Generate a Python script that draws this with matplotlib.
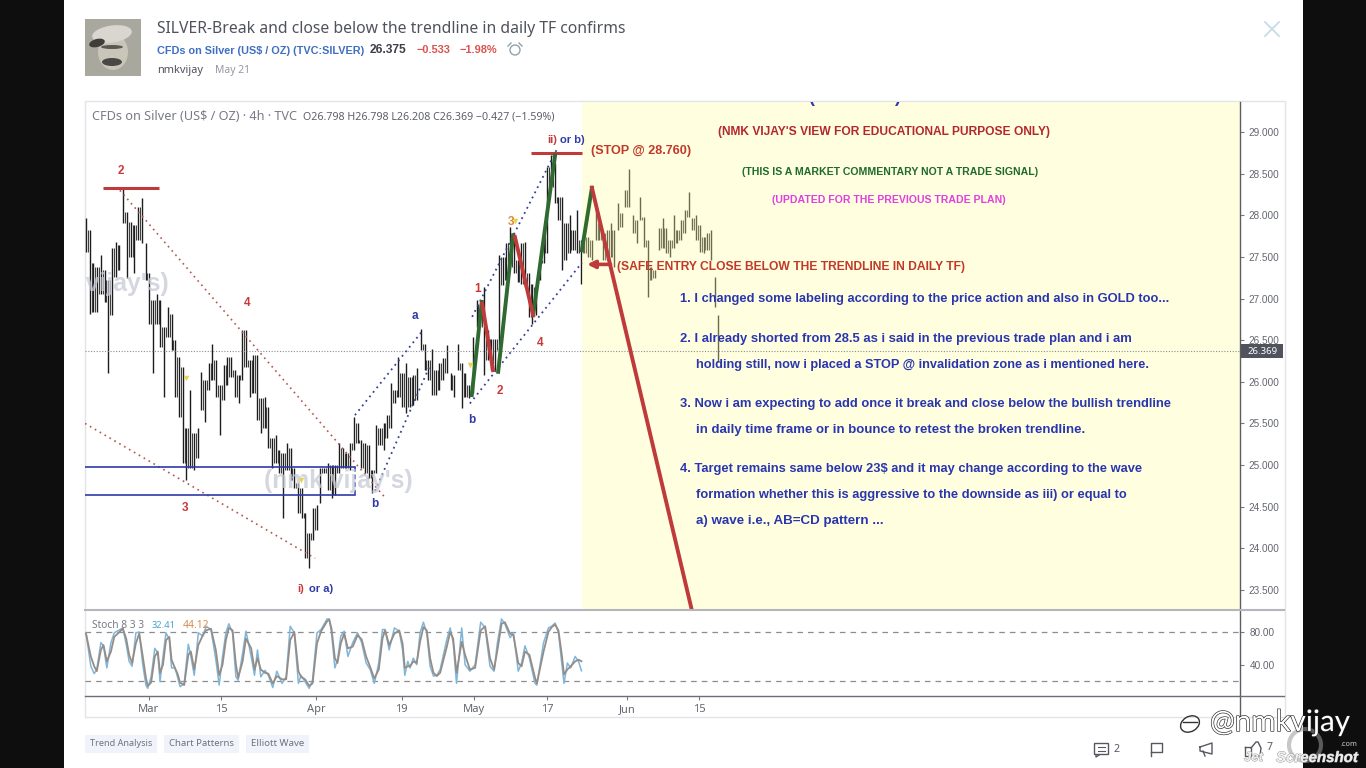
#!/usr/bin/env python3
"""SILVER 4h idea page with Elliott wave drawings, redrawn in matplotlib."""

import numpy as np
import matplotlib
matplotlib.use('Agg')
import matplotlib.pyplot as plt
import matplotlib.patheffects as pe
from matplotlib.patches import Rectangle, Ellipse, Circle, FancyBboxPatch

FONT = 'Noto Sans'
BOLD_FONT = 'Liberation Sans'

# 4h bars, left to right
bar_high = [27.97, 27.82, 27.43, 27.38, 27.52, 27.34, 27.22, 27.61, 27.68, 27.64, 28.32, 28.04, 27.92, 27.88, 28.10, 28.21,
            27.67, 27.31, 26.98, 27.06, 26.98, 26.66, 26.90, 26.82, 26.50, 26.30, 26.18, 25.45, 25.90, 25.38, 25.45, 26.12,
            26.02, 26.22, 26.46, 26.26, 25.96, 26.20, 26.30, 26.30, 26.14, 26.08, 26.62, 26.62, 26.26, 26.32,
            26.32, 25.80, 25.82, 25.70, 25.33, 25.36, 25.18, 25.15, 25.26, 25.20, 24.97, 24.78, 24.73, 24.42, 24.18, 24.49,
            24.52, 24.96, 24.96, 25.03, 25.00, 25.00, 25.27, 25.20, 25.15, 25.27, 25.58, 25.50, 25.30, 25.27, 25.24, 24.94,
            25.48, 25.45, 25.50, 25.60, 25.98, 25.90, 26.30, 26.10, 26.22, 26.06, 26.08, 26.16,
            26.64, 26.46, 26.26, 26.40, 26.14, 26.22, 26.28, 26.44, 26.10, 26.08, 26.46, 26.22, 26.10, 25.96, 26.54, 26.98,
            26.94, 27.14, 26.62, 26.52, 26.52, 27.52, 27.50, 27.67, 27.86, 27.74, 27.46, 27.67, 27.68, 27.31, 27.18, 27.14,
            27.46, 27.76, 28.58, 28.72, 28.63, 28.22, 28.22, 27.91, 28.00, 27.82, 28.06, 27.70,
            27.82, 27.74, 27.70, 28.06, 27.91, 27.79, 27.82, 27.91, 27.82, 28.15, 28.03, 28.30, 28.56, 28.00, 27.94, 28.22,
            27.98, 27.70, 27.38, 27.34, 27.85, 27.97, 27.85, 27.70, 28.00, 27.82, 27.94, 28.06, 28.28, 27.97, 28.00, 27.88,
            27.74, 27.79, 27.82, 27.26, 26.80]
bar_low = [27.56, 26.82, 26.84, 26.84, 27.06, 26.96, 26.10, 26.80, 27.26, 27.34, 27.91, 27.25, 27.50, 27.31, 27.70, 27.67,
           27.22, 26.70, 26.10, 26.70, 26.42, 25.82, 26.54, 26.38, 25.82, 25.58, 25.02, 24.82, 24.97, 24.94, 25.09, 25.66,
           25.52, 25.90, 26.02, 25.82, 25.36, 25.78, 25.96, 26.06, 25.82, 25.74, 26.02, 26.18, 25.82, 25.86,
           25.54, 25.39, 25.45, 25.21, 24.96, 25.02, 24.90, 24.37, 24.94, 24.82, 24.73, 24.42, 24.37, 23.89, 23.76, 24.10,
           24.22, 24.54, 24.91, 24.70, 24.60, 24.64, 24.90, 24.97, 24.96, 24.94, 25.18, 25.26, 24.97, 24.90, 24.85, 24.67,
           24.90, 25.24, 25.18, 25.33, 25.45, 25.74, 25.82, 25.70, 25.62, 25.70, 25.72, 25.78,
           26.38, 26.14, 26.02, 25.84, 25.84, 25.90, 26.02, 26.10, 25.90, 25.82, 26.14, 25.68, 25.82, 25.80, 25.86, 26.66,
           26.66, 26.08, 26.26, 26.14, 26.14, 26.38, 27.16, 27.22, 27.38, 27.31, 27.20, 27.18, 27.14, 26.78, 26.70, 26.80,
           27.22, 27.43, 27.55, 28.34, 28.15, 27.94, 27.34, 27.46, 27.55, 27.58, 27.55, 27.18,
           27.55, 27.50, 27.46, 27.70, 27.70, 27.46, 27.46, 27.50, 27.38, 27.82, 27.86, 28.10, 28.10, 27.79, 27.67, 27.94,
           27.62, 27.02, 27.22, 27.25, 27.58, 27.61, 27.55, 27.50, 27.61, 27.67, 27.70, 27.79, 27.98, 27.82, 27.70, 27.56,
           27.55, 27.58, 27.46, 26.90, 26.24]

# stochastic turning points: bar position, %K, %D
stoch_bar = [0, 1.3, 2.2, 2.9, 4.0, 4.7, 5.6, 6.7, 7.6, 9.9, 10.8, 11.6, 12.4, 13.4, 14.3, 15.2, 16.1, 16.6, 17.5, 18.5,
             19.3, 19.9, 20.7, 21.5, 22.4, 23.0, 23.9, 24.6, 25.3, 26.4, 27.5, 28.2, 29.1, 30.2, 31.4, 32.3, 33.6, 34.9,
             35.8, 36.7, 37.6, 38.4, 39.4, 40.3, 40.9, 42.1, 43.0, 44.4, 45.3, 46.1, 47.0, 48.1, 49.0, 50.2, 51.3, 52.7,
             53.8, 54.9, 56.0, 57.1, 57.8, 58.9, 60.0, 60.9, 62.1, 63.2, 64.8, 65.4, 66.0, 66.9, 67.6, 68.5, 69.4, 70.4,
             71.7, 73.0, 74.1, 75.3, 76.4, 77.5, 78.7, 79.7, 80.4, 81.5, 82.9, 84.2, 85.1, 85.7, 86.5, 87.1, 88.0, 88.9,
             89.8, 90.7, 91.6, 92.5, 93.4, 94.3, 95.2, 97.0, 97.9, 98.7, 99.6, 101.0, 101.9, 103.2, 104.6, 106.1, 107.3,
             108.6, 109.7, 110.6, 111.7, 112.6, 114.0, 114.9, 116.2, 117.1, 118.0, 119.2, 120.7, 121.2, 123.0, 124.3,
             125.2, 126.1, 127.0, 127.9, 128.5, 129.4, 130.3, 131.5, 132.4, 133.2]
stoch_k = [79, 38, 29, 34, 67, 63, 36, 67, 79, 85, 65, 44, 38, 79, 80, 42, 15, 11, 25, 60,
           54, 19, 50, 79, 71, 36, 36, 25, 13, 17, 65, 50, 27, 79, 75, 87, 83, 46,
           15, 50, 79, 90, 79, 25, 21, 54, 81, 50, 27, 58, 25, 33, 27, 12, 32, 17,
           25, 87, 79, 17, 27, 19, 11, 21, 79, 83, 96, 96, 79, 36, 46, 75, 81, 50,
           67, 79, 67, 42, 34, 17, 42, 83, 83, 58, 85, 81, 58, 27, 44, 36, 48, 40,
           79, 92, 79, 38, 26, 27, 34, 71, 85, 67, 17, 85, 40, 32, 40, 92, 85,
           38, 32, 67, 96, 90, 73, 79, 32, 42, 63, 48, 17, 15, 67, 85,
           87, 91, 79, 42, 17, 42, 36, 50, 44, 32.41]
stoch_d = [78, 50, 38, 32, 58, 64, 44, 56, 74, 84, 72, 52, 42, 66, 78, 52, 24, 14, 18, 50,
           56, 30, 40, 70, 74, 46, 36, 29, 18, 15, 52, 56, 34, 64, 76, 82, 84, 58,
           27, 40, 70, 85, 82, 40, 24, 44, 72, 60, 34, 48, 34, 30, 29, 17, 26, 22,
           22, 70, 80, 32, 25, 22, 14, 17, 66, 81, 93, 95, 84, 48, 42, 66, 78, 60,
           62, 76, 71, 50, 37, 23, 34, 72, 82, 64, 78, 82, 66, 36, 38, 38, 44, 42,
           68, 86, 82, 48, 30, 26, 30, 62, 80, 72, 30, 68, 52, 34, 36, 82, 87,
           48, 34, 58, 90, 92, 78, 76, 42, 38, 56, 52, 24, 17, 56, 80,
           86, 89, 82, 52, 28, 34, 38, 44, 46, 44.12]

price_ticks = [29.0, 28.5, 28.0, 27.5, 27.0, 26.5, 26.0, 25.5, 25.0, 24.5, 24.0, 23.5]
stoch_ticks = [80, 40]
date_pos = [16.9, 36.3, 61.8, 84.9, 104.3, 123.9, 145.4, 164.8]
date_labels = ['Mar', '15', 'Apr', '19', 'May', '17', 'Jun', '15']

last_price = 26.369

# wave drawings as (bar, price) pairs
green_legs = [[(103.7, 25.84), (106.4, 26.96)], [(110.8, 26.12), (114.8, 27.76)],
              [(120.2, 26.80), (126.1, 28.72)], [(133.3, 27.58), (136.0, 28.33)]]
red_legs = [[(106.5, 26.94), (109.4, 26.14)], [(115.3, 27.74), (120.2, 26.80)],
            [(136.0, 28.33), (162.9, 23.25)]]
red_dotted = [[(9.1, 28.30), (80.4, 24.61)], [(-0.27, 25.50), (61.6, 23.88)]]
blue_dotted = [[(72.3, 25.60), (90.6, 26.62)], [(77.7, 24.69), (92.5, 26.20)],
               [(103.8, 26.78), (126.9, 28.82)], [(103.2, 25.74), (133.3, 27.43)]]
red_levels = [(4.6, 19.6, 28.33), (119.6, 133.3, 28.75)]
zone_levels = [24.98, 24.64]
zone_end = 72.3
marker_points = [(26.9, 26.05), (57.9, 24.82), (103.1, 26.20), (115.2, 27.93)]

W, H = 1366, 768
AX_L, AX_R = 85, 1240
BAR_STEP = 3.72
BAR_ZERO = 86


def rect_for(x0, y0, x1, y1):
    return [x0 / W, 1 - y1 / H, (x1 - x0) / W, (y1 - y0) / H]


fig = plt.figure(figsize=(W / 100, H / 100), dpi=100, facecolor='#0e0e0e')
rend = fig.canvas.get_renderer()

# page
page = fig.add_axes([0, 0, 1, 1], zorder=0)
page.set_xlim(0, W)
page.set_ylim(H, 0)
page.axis('off')
page.add_patch(Rectangle((64, 0), 1239, H, color='white', lw=0))
page.add_patch(Rectangle((85, 101), 1199.5, 616, fc='none', ec='#e3e4e8', lw=1))

xlim = ((AX_L - BAR_ZERO) / BAR_STEP, (AX_R - BAR_ZERO) / BAR_STEP)

# price panel
ax = fig.add_axes(rect_for(AX_L, 102, AX_R, 610), zorder=1)
ax.set_xlim(*xlim)
ax.set_ylim(23.26, 29.36)
ax.patch.set_alpha(0)
for s in ['top', 'left', 'bottom', 'right']:
    ax.spines[s].set_visible(False)

bars = np.arange(len(bar_high))
hi = np.array(bar_high)
lo = np.array(bar_low)
ax.vlines(bars, lo, hi, color='#1c1c1c', lw=1.0, zorder=2)
# the original packs about three bars in this space, fill where neighbours overlap
mid_hi = np.minimum(hi[:-1], hi[1:])
mid_lo = np.maximum(lo[:-1], lo[1:])
keep = mid_hi > mid_lo
ax.vlines(bars[:-1][keep] + 0.5, mid_lo[keep], mid_hi[keep], color='#3a3a3a', lw=0.7, zorder=2)
ax.add_patch(Rectangle((133.3, 23.26), xlim[1] - 133.3, 6.1, color='#ffffa6', alpha=0.35, lw=0, zorder=3))
ax.axhline(last_price, color='#8a8d94', lw=0.8, ls=(0, (1, 1.5)), zorder=4)

for leg in red_dotted:
    ax.plot(*zip(*leg), color='#b5554e', lw=1.2, ls=(0, (1, 2.4)), zorder=4)
for leg in blue_dotted:
    ax.plot(*zip(*leg), color='#34409a', lw=1.3, ls=(0, (1, 2.2)), zorder=4)
for level in zone_levels:
    ax.plot([xlim[0], zone_end], [level, level], color='#2f3aa8', lw=1.2, zorder=4)
ax.plot([zone_end, zone_end], zone_levels, color='#2f3aa8', lw=1.1, ls=(0, (3, 2)), zorder=4)
for x0, x1, level in red_levels:
    ax.plot([x0, x1], [level, level], color='#bf3a3a', lw=2.2, zorder=5, solid_capstyle='butt')
for leg in green_legs:
    ax.plot(*zip(*leg), color='#2f6b31', lw=2.8, zorder=5)
for leg in red_legs:
    ax.plot(*zip(*leg), color='#bf3a3a', lw=2.8, zorder=5)
ax.annotate('', xy=(134.7, 27.41), xytext=(141.0, 27.41), zorder=5,
            arrowprops=dict(arrowstyle='-|>', color='#bf3a3a', lw=2.6, mutation_scale=11, shrinkA=0, shrinkB=0))
ax.scatter(*zip(*marker_points), marker='v', s=16, color='#e8d44a', zorder=5, lw=0)

ax.set_xticks([])
ax.yaxis.tick_right()
ax.set_yticks(price_ticks)
ax.set_yticklabels([f'{p:.3f}' for p in price_ticks], family=BOLD_FONT)
ax.tick_params(axis='y', length=3, width=0.8, color='#787b86', labelsize=7.2, labelcolor='#63666f', pad=3)

# stochastic panel
sx = fig.add_axes(rect_for(AX_L, 611, AX_R, 696), zorder=1)
sx.set_xlim(*xlim)
sx.set_ylim(1.6, 105.7)
sx.patch.set_alpha(0)
for s in ['top', 'left', 'right']:
    sx.spines[s].set_visible(False)
sx.spines['bottom'].set_color('#6b6e76')
sx.spines['bottom'].set_linewidth(1)
for level in [80, 20]:
    sx.axhline(level, color='#8a8d94', lw=0.9, ls=(0, (4.5, 4)), zorder=1)
sx.plot(stoch_bar, stoch_k, color='#7fb6da', lw=1.1, zorder=2)
sx.plot(stoch_bar, stoch_d, color='#968c86', lw=1.3, zorder=3)
sx.set_xticks(date_pos)
sx.set_xticklabels(date_labels, family=FONT)
sx.yaxis.tick_right()
sx.set_yticks(stoch_ticks)
sx.set_yticklabels([f'{v:.2f}' for v in stoch_ticks], family=BOLD_FONT)
sx.tick_params(axis='x', length=3, width=0.8, color='#787b86', labelsize=8, labelcolor='#63666f', pad=3)
sx.tick_params(axis='y', length=3, width=0.8, color='#787b86', labelsize=7.2, labelcolor='#63666f', pad=4)

# everything on top is placed in page pixels
ov = fig.add_axes([0, 0, 1, 1], zorder=5)
ov.set_xlim(0, W)
ov.set_ylim(H, 0)
ov.axis('off')
ov.patch.set_alpha(0)


def put(x0, x1, y, s, color, weight='normal', family=None, **kw):
    # text scaled so it runs from x0 to x1, like the original
    if family is None:
        family = BOLD_FONT if weight == 'bold' else FONT
    t = ov.text(x0, y + 1, s, color=color, fontweight=weight, family=family, fontsize=10,
                ha='left', va='center', **kw)
    w = t.get_window_extent(rend).width
    t.set_fontsize(10 * (x1 - x0) / w)
    return t


def clip_to_chart(t):
    t.set_clip_on(True)
    t.set_clip_path(Rectangle((85, 102), 1155, 508, transform=ov.transData))


# price axis, separator, last price tag
ov.plot([AX_R, AX_R], [102, 717], color='#5a5d64', lw=1)
ov.plot([AX_L, 1284], [610, 610], color='#b4b6bb', lw=1.5)
ov.plot([AX_R, 1284], [696, 696], color='#6b6e76', lw=1)
ov.add_patch(Rectangle((1241, 344), 42, 14, color='#50535e', lw=0))
put(1248, 1278, 350, '26.369', 'white')

# header
ov.add_patch(Rectangle((85, 19), 56, 57, color='#a9a89f', lw=0))
ov.add_patch(Ellipse((113, 52), 30, 36, color='#c9c5b8', lw=0))
ov.add_patch(Ellipse((112, 34), 40, 17, angle=-8, color='#d8d6cf', lw=0))
ov.add_patch(Ellipse((97, 43), 16, 8, angle=-15, color='#3e3d3a', lw=0))
ov.add_patch(Ellipse((112, 62), 20, 8, color='#4a4844', lw=0))
ov.add_patch(Ellipse((112, 47), 22, 4, color='#5a5852', lw=0))
put(157, 624, 28, 'SILVER-Break and close below the trendline in daily TF confirms', '#50535e')
put(157, 364, 50.5, 'CFDs on Silver (US$ / OZ) (TVC:SILVER)', '#3f6fc2', weight='bold')
put(370, 407, 49, '26.375', '#3c3f48', weight='bold')
put(417, 451, 49, '\u22120.533', '#d9534f', weight='bold')
put(460, 498, 49, '\u22121.98%', '#d9534f', weight='bold')
ov.add_patch(Circle((515, 50), 5, fc='none', ec='#8fa3ad', lw=1))
ov.plot([508, 511], [46, 43], color='#8fa3ad', lw=1)
ov.plot([519, 522], [43, 46], color='#8fa3ad', lw=1)
put(157, 203, 69, 'nmkvijay', '#50535e')
put(215, 250, 69, 'May 21', '#9598a1')
ov.plot([1265, 1279], [22, 36], color='#c9dbe8', lw=1.3)
ov.plot([1265, 1279], [36, 22], color='#c9dbe8', lw=1.3)

# chart legend
put(92, 297, 115, 'CFDs on Silver (US$ / OZ) \u00b7 4h \u00b7 TVC', '#787b86')
put(303, 554, 116, 'O26.798 H26.798 L26.208 C26.369 \u22120.427 (\u22121.59%)', '#5d6069')
put(92, 144, 624, 'Stoch 8 3 3', '#787b86')
put(152, 176, 624, '32.41', '#4fa3d1')
put(183, 209, 624, '44.12', '#d98c52')

# watermarks
for x0, x1, y, s in [(264, 413, 480, "(nmk vijay's)"), (20, 169, 283, "(nmk vijay's)")]:
    clip_to_chart(put(x0, x1, y, s, '#c6cad6', weight='bold', alpha=0.75))
for x0, s in [(808, '('), (894, ')')]:
    clip_to_chart(put(x0, x0 + 6, 96, s, '#2f3aa8', weight='bold'))

# wave labels
WRED, WBLUE = '#c8393a', '#2f3aa8'
for x, y, s, c in [(121, 171, '2', WRED), (247, 303, '4', WRED), (185, 508, '3', WRED), (478, 289, '1', WRED),
                   (500, 391, '2', WRED), (540, 343, '4', WRED), (511, 222, '3', '#e08a2e'),
                   (415, 316, 'a', WBLUE), (472, 420, 'b', WBLUE), (375, 504, 'b', WBLUE)]:
    ov.text(x, y, s, color=c, fontsize=8.5, fontweight='bold', family=BOLD_FONT, ha='center', va='center')
for x, y, s, c in [(297, 589, 'i)', WRED), (309, 589, 'or a)', WBLUE), (547, 140, 'ii)', WRED), (560, 140, 'or b)', WBLUE)]:
    ov.text(x, y, s, color=c, fontsize=8, fontweight='bold', family=BOLD_FONT, ha='left', va='center')

# commentary
put(591, 691, 150, '(STOP @ 28.760)', '#c0392b', weight='bold')
put(718, 1050, 131, "(NMK VIJAY'S VIEW FOR EDUCATIONAL PURPOSE ONLY)", '#b3282d', weight='bold')
put(742, 1036, 171, '(THIS IS A MARKET COMMENTARY NOT A TRADE SIGNAL)', '#1f6b2c', weight='bold')
put(772, 1004, 199, '(UPDATED FOR THE PREVIOUS TRADE PLAN)', '#e23fe0', weight='bold')
put(617, 964, 266, '(SAFE ENTRY CLOSE BELOW THE TRENDLINE IN DAILY TF)', '#c0392b', weight='bold')
BLUE = '#2a35b0'
put(680, 1168, 298, '1. I changed some labeling according to the price action and also in GOLD too...', BLUE, weight='bold')
put(680, 1136, 338, '2. I already shorted from 28.5 as i said in the previous trade plan and i am', BLUE, weight='bold')
put(696, 1152, 364, 'holding still, now i placed a STOP @ invalidation zone as i mentioned here.', BLUE, weight='bold')
put(680, 1175, 403, '3. Now i am expecting to add once it break and close below the bullish trendline', BLUE, weight='bold')
put(696, 1086, 429, 'in daily time frame or in bounce to retest the broken trendline.', BLUE, weight='bold')
put(680, 1145, 468, '4. Target remains same below 23$ and it may change according to the wave', BLUE, weight='bold')
put(696, 1128, 494, 'formation whether this is aggressive to the downside as iii) or equal to', BLUE, weight='bold')
put(696, 884, 520, 'a) wave i.e., AB=CD pattern ...', BLUE, weight='bold')

# tags
for x0, x1, s in [(85, 157, 'Trend Analysis'), (164, 239, 'Chart Patterns'), (246, 309, 'Elliott Wave')]:
    ov.add_patch(Rectangle((x0, 735), x1 - x0, 18, color='#f0f3fa', lw=0))
    put(x0 + 5, x1 - 5, 743, s, '#6f727c')

# footer icons
ICON = '#55585f'
ov.add_patch(FancyBboxPatch((1095, 744), 13, 10, boxstyle='round,pad=0.5', fc='none', ec=ICON, lw=1))
ov.plot([1098, 1105], [747, 747], color=ICON, lw=0.8)
ov.plot([1098, 1105], [751, 751], color=ICON, lw=0.8)
ov.plot([1096, 1096, 1099], [755, 757, 755], color=ICON, lw=1)
put(1114, 1120, 748, '2', ICON)
ov.plot([1151, 1151, 1162, 1162, 1151], [756, 743, 743, 752, 752], color=ICON, lw=1)
ov.plot([1200, 1212, 1212, 1200, 1200], [747, 743, 754, 751, 747], color=ICON, lw=1)
ov.plot([1203, 1205], [751, 756], color=ICON, lw=1)
ov.plot([1245, 1251, 1251, 1245, 1245], [747, 747, 756, 756, 747], color=ICON, lw=1)
ov.plot([1251, 1256, 1258, 1261, 1260, 1252], [748, 742, 742, 748, 756, 756], color=ICON, lw=1)
put(1267, 1273, 746, '7', ICON)

# screen recorder overlays
OUTLINE = [pe.withStroke(linewidth=0.9, foreground='#222222')]
put(1210, 1350, 721, '@nmkvijay', 'white', family='Lato', path_effects=OUTLINE)
ov.add_patch(Ellipse((1190, 724), 20, 15, angle=-30, fc='none', ec='#333333', lw=1))
ov.plot([1183, 1197], [722, 722], color='#333333', lw=1)
ov.add_patch(Circle((1305, 745), 16, fc='none', ec='#9a9a9a', lw=3, alpha=0.55))
JET = [pe.withStroke(linewidth=0.6, foreground='#9a9a9a')]
put(1244, 1263, 757, 'Jet', '#eeeeee', weight='bold', style='italic', path_effects=JET)
put(1276, 1358, 757, 'Screenshot', '#eeeeee', weight='bold', style='italic', path_effects=JET)
put(1340, 1357, 743, '.com', '#cfcfcf')

fig.savefig('out.png', dpi=100, facecolor=fig.get_facecolor())
